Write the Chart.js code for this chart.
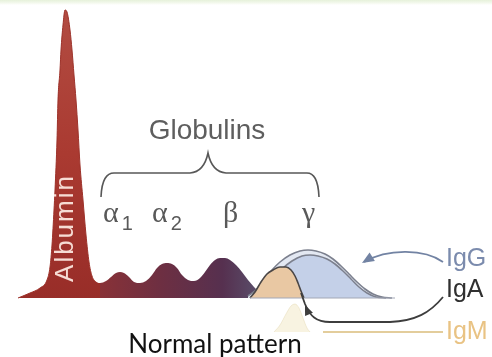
<!DOCTYPE html>
<html>
<head>
<meta charset="utf-8">
<title>Serum protein electrophoresis</title>
<script src="https://cdn.jsdelivr.net/npm/chart.js@4.4.1/dist/chart.umd.min.js"></script>
<style>
  html, body { margin: 0; padding: 0; background: #fff; }
  body { background: linear-gradient(#e6f1da 0, #f4f9ee 3px, #fff 5px); }
  canvas { display: block; }
</style>
</head>
<body>
<canvas id="spep" width="492" height="357"></canvas>
<script>
// Densitometer trace, [mobility, density] pairs (density 0 = baseline)
const albumin = [[18,0],[30,5],[40,10],[47,18],[50,31],[52,53],[54,88],[55,108],[57,158],[58,198],[60,228],[61,248],[63,273],[65,288],
                 [67,286],[70,268],[72,248],[74,223],[76,198],[78,168],[80,133],[83,98],[86,63],[89,36],[92,22],[96,16],[100,14]];
const globulins = [[92,15],[100,15],[106,17],[111,21],[116,25],[120,26],[124,25],[129,21],[134,16],[140,15],[146,17],[152,23],[157,30],
                   [162,34],[167,35],[172,34],[177,30],[182,23],[188,18],[194,17],[200,20],[205,26],[210,33],[215,38],[220,40],[225,40],
                   [230,38],[236,33],[242,26],[248,18],[254,11],[260,5],[266,0]];
const igG = [[248,2],[256,8],[264,18],[272,28],[280,36],[290,43],[300,47],[308,48],[316,47],[325,44],[333,39],[341,32],[349,24],
             [357,16],[365,9],[373,4],[382,1],[392,0]];
const igGInner = [[258,1],[266,10],[274,20],[282,29],[292,37],[302,42],[310,43],[318,42],[327,39],[335,34],[343,27],[351,19],
                  [359,11],[367,5],[376,1],[386,0]];
const igA = [[250,0],[255,6],[261,16],[267,24],[273,28],[280,31],[286,31],[291,28],[295,22],[298,15],[301,7],[304,0]];
const igM = [[274,-34],[280,-27],[286,-16],[291,-8],[295,-6],[299,-10],[303,-20],[307,-30],[310,-34]];
const gammaBase = [[250,0],[395,0]];

const fractionNames = ['α', 'α', 'β', 'γ'];
const fractionSubs = ['1', '2', '', ''];
const igLabels = ['IgG', 'IgA', 'IgM'];

const pts = arr => arr.map(([x, y]) => ({ x, y }));

function albuminFill(ctx) {
  const { chart } = ctx;
  if (!chart.chartArea) return '#a8372e';
  const yS = chart.scales.y;
  const g = chart.ctx.createLinearGradient(0, yS.getPixelForValue(288), 0, yS.getPixelForValue(0));
  g.addColorStop(0, '#b24c42');
  g.addColorStop(0.5, '#aa3a31');
  g.addColorStop(1, '#982d28');
  return g;
}

function globulinFill(ctx) {
  const { chart } = ctx;
  if (!chart.chartArea) return '#6a2f40';
  const xS = chart.scales.x;
  const g = chart.ctx.createLinearGradient(xS.getPixelForValue(92), 0, xS.getPixelForValue(266), 0);
  g.addColorStop(0, '#8c3236');
  g.addColorStop(0.4, '#6d2f42');
  g.addColorStop(0.75, '#56304f');
  g.addColorStop(1, '#5a5470');
  return g;
}

function arrowHead(c, tx, ty, fx, fy, size) {
  const a = Math.atan2(ty - fy, tx - fx);
  c.beginPath();
  c.moveTo(tx, ty);
  c.lineTo(tx - size * Math.cos(a - 0.4), ty - size * Math.sin(a - 0.4));
  c.lineTo(tx - size * Math.cos(a + 0.4), ty - size * Math.sin(a + 0.4));
  c.closePath();
  c.fill();
}

// Brace, fraction names, callouts and captions
const annotations = {
  id: 'annotations',
  afterDatasetsDraw(chart) {
    const c = chart.ctx;
    const X = v => chart.scales.x.getPixelForValue(v);
    const Y = v => chart.scales.y.getPixelForValue(v);
    c.save();

    // Albumin, written up the peak
    c.save();
    c.translate(X(66), Y(70));
    c.rotate(-Math.PI / 2);
    c.font = '26px "Liberation Sans", Arial, sans-serif';
    c.letterSpacing = '2px';
    c.fillStyle = '#f6dcd4';
    c.textAlign = 'center';
    c.textBaseline = 'middle';
    c.fillText('Albumin', 0, 0);
    c.restore();

    // Globulins heading and brace
    c.font = '28px "Liberation Sans", Arial, sans-serif';
    c.fillStyle = '#5e5e5e';
    c.textAlign = 'center';
    c.textBaseline = 'alphabetic';
    c.fillText('Globulins', X(207), Y(159));

    c.strokeStyle = '#585858';
    c.lineWidth = 1.6;
    c.beginPath();
    c.moveTo(X(101), Y(101));
    c.quadraticCurveTo(X(102), Y(126), X(115), Y(125));
    c.lineTo(X(190), Y(125));
    c.quadraticCurveTo(X(204), Y(126), X(208), Y(145));
    c.quadraticCurveTo(X(212), Y(126), X(226), Y(125));
    c.lineTo(X(306), Y(125));
    c.quadraticCurveTo(X(318), Y(126), X(319), Y(101));
    c.stroke();

    // Fraction names
    const nameX = [103, 152, 223, 302];
    c.fillStyle = '#595959';
    c.textAlign = 'left';
    fractionNames.forEach((n, i) => {
      c.font = '30px "Liberation Serif", "Times New Roman", serif';
      c.fillText(n, X(nameX[i]), Y(76));
      if (fractionSubs[i]) {
        const w = c.measureText(n).width;
        c.font = '20px "Liberation Sans", Arial, sans-serif';
        c.fillText(fractionSubs[i], X(nameX[i]) + w + 3, Y(68));
      }
    });

    // Immunoglobulin callouts
    c.lineWidth = 1.8;
    c.strokeStyle = '#7283a3';
    c.fillStyle = '#7283a3';
    c.beginPath();
    c.moveTo(X(443), Y(36));
    c.bezierCurveTo(X(425), Y(49), X(388), Y(50), X(364), Y(36));
    c.stroke();
    arrowHead(c, X(362), Y(35), X(380), Y(46), 13);

    c.strokeStyle = '#3d3d3d';
    c.fillStyle = '#3d3d3d';
    c.beginPath();
    c.moveTo(X(443), Y(1));
    c.bezierCurveTo(X(430), Y(-15), X(415), Y(-23), X(390), Y(-24));
    c.lineTo(X(330), Y(-24));
    c.bezierCurveTo(X(316), Y(-24), X(310), Y(-18), X(305), Y(-6));
    c.lineTo(X(301), Y(5));
    c.stroke();
    arrowHead(c, X(305), Y(-7), X(311), Y(-21), 11);

    c.strokeStyle = '#e3cd9c';
    c.lineWidth = 2;
    c.beginPath();
    c.moveTo(X(443), Y(-34));
    c.lineTo(X(323), Y(-34));
    c.stroke();

    const labelY = [39, 8, -34];
    const labelColors = ['#7b8bad', '#303030', '#e9c384'];
    c.font = '25px "Liberation Sans", Arial, sans-serif';
    c.textBaseline = 'middle';
    igLabels.forEach((t, i) => {
      c.fillStyle = labelColors[i];
      c.fillText(t, X(446), Y(labelY[i]));
    });

    // Caption
    c.font = '26px Lato, "Open Sans", sans-serif';
    c.fillStyle = '#111';
    c.textAlign = 'center';
    c.textBaseline = 'alphabetic';
    c.fillText('Normal pattern', X(215), Y(-55));
    c.restore();
  }
};

const line = { pointRadius: 0, cubicInterpolationMode: 'monotone' };

new Chart(document.getElementById('spep'), {
  type: 'line',
  data: {
    datasets: [
      { ...line, label: 'Albumin', data: pts(albumin), order: 2, fill: 'origin',
        backgroundColor: albuminFill, borderColor: '#9c3129', borderWidth: 1 },
      { ...line, label: 'IgA', data: pts(igA), order: 3, fill: 'origin',
        backgroundColor: '#e9c8a3', borderColor: '#4a4646', borderWidth: 1.6 },
      { ...line, label: 'IgM', data: pts(igM), order: 3, fill: { value: -34 },
        backgroundColor: 'rgba(242,232,195,0.5)', borderColor: 'rgba(220,205,160,0.35)', borderWidth: 1 },
      { ...line, label: 'Baseline', data: pts(gammaBase), order: 1, fill: false,
        borderColor: '#a3a8b6', borderWidth: 1 },
      { ...line, label: 'IgG inner', data: pts(igGInner), order: 4, fill: 'origin',
        backgroundColor: '#c4d0e8', borderColor: '#7c808e', borderWidth: 1.6 },
      { ...line, label: 'IgG', data: pts(igG), order: 5, fill: 'origin',
        backgroundColor: '#e3e8f2', borderColor: '#7c808e', borderWidth: 1.6 },
      { ...line, label: 'Globulins', data: pts(globulins), order: 6, fill: 'origin',
        backgroundColor: globulinFill, borderColor: 'rgba(0,0,0,0)', borderWidth: 0 }
    ]
  },
  options: {
    responsive: false,
    animation: false,
    layout: { padding: 0 },
    scales: {
      x: { type: 'linear', min: 0, max: 492, display: false },
      y: { min: -59, max: 298, display: false }
    },
    plugins: { legend: { display: false }, tooltip: { enabled: false } }
  },
  plugins: [annotations]
});
</script>
</body>
</html>
